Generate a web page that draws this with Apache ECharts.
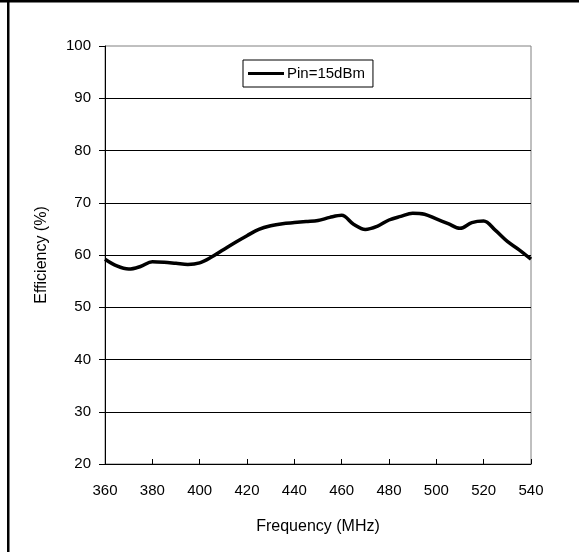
<!DOCTYPE html>
<html>
<head>
<meta charset="utf-8">
<script src="https://cdn.jsdelivr.net/npm/echarts@6/dist/echarts.min.js"></script>
<style>
html,body{margin:0;padding:0;background:#fff;}
#chart{width:579px;height:552px;}
</style>
</head>
<body>
<div id="chart"></div>
<script>
var frequencies = [360,365,370,375,380,385,390,395,400,405,410,415,420,425,430,435,440,445,450,455,460,465,470,475,480,485,490,495,500,505,510,515,520,525,530,535,540];
var efficiency = [59.2,57.9,57.3,57.8,58.7,58.6,58.4,58.2,58.5,59.6,61.0,62.4,63.7,64.9,65.6,66.0,66.2,66.4,66.6,67.2,67.6,65.9,64.9,65.5,66.7,67.4,68.0,67.8,66.9,66.0,65.1,66.2,66.5,64.7,62.6,61.0,59.2];
var seriesName = 'Pin=15dBm';
var xTitle = 'Frequency (MHz)';
var yTitle = 'Efficiency (%)';

var data = frequencies.map(function(f,i){return [f, efficiency[i]];});
var chart = echarts.init(document.getElementById('chart'), null, {renderer:'canvas'});
var font = 'Liberation Sans, Arial, sans-serif';
chart.setOption({
  animation:false,
  backgroundColor:'#fff',
  textStyle:{fontFamily:font},
  grid:{left:105,right:48,top:46,bottom:88,show:true,borderColor:'#808080',borderWidth:1,backgroundColor:'transparent'},
  legend:{
    left:243, top:60, orient:'horizontal',
    borderColor:'#000', borderWidth:1, padding:[6,8,6,5],
    itemWidth:36, itemHeight:3, itemGap:0,
    icon:'rect',
    textStyle:{fontFamily:font,fontSize:15,color:'#000',padding:[0,0,0,-2]},
    data:[{name:seriesName, itemStyle:{color:'#000'}}]
  },
  xAxis:{
    type:'value', min:360, max:540, interval:20,
    name:xTitle, nameLocation:'middle', nameGap:55,
    nameTextStyle:{fontFamily:font,fontSize:16,color:'#000'},
    axisLine:{lineStyle:{color:'#000',width:1}},
    axisTick:{inside:true,length:5,lineStyle:{color:'#000'}},
    axisLabel:{fontFamily:font,fontSize:15,color:'#000',margin:19},
    splitLine:{show:false}
  },
  yAxis:{
    type:'value', min:20, max:100, interval:10,
    name:yTitle, nameLocation:'middle', nameGap:55, nameRotate:90,
    nameTextStyle:{fontFamily:font,fontSize:16,color:'#000'},
    axisLine:{show:true,lineStyle:{color:'#000',width:1}},
    axisTick:{show:true,inside:false,length:6,lineStyle:{color:'#000'}},
    axisLabel:{fontFamily:font,fontSize:15,color:'#000',margin:14},
    splitLine:{show:true,showMaxLine:false,lineStyle:{color:'#000',width:1}}
  },
  series:[{
    name:seriesName, type:'line', data:data, smooth:0.35,
    showSymbol:false, symbol:'none',
    lineStyle:{color:'#000',width:3.5},
    itemStyle:{color:'#000'}
  }],
  graphic:[
    {type:'rect',shape:{x:0,y:0,width:579,height:2.5},style:{fill:'#000'},z:100},
    {type:'rect',shape:{x:7,y:0,width:2.5,height:552},style:{fill:'#000'},z:100}
  ]
});
</script>
</body>
</html>
